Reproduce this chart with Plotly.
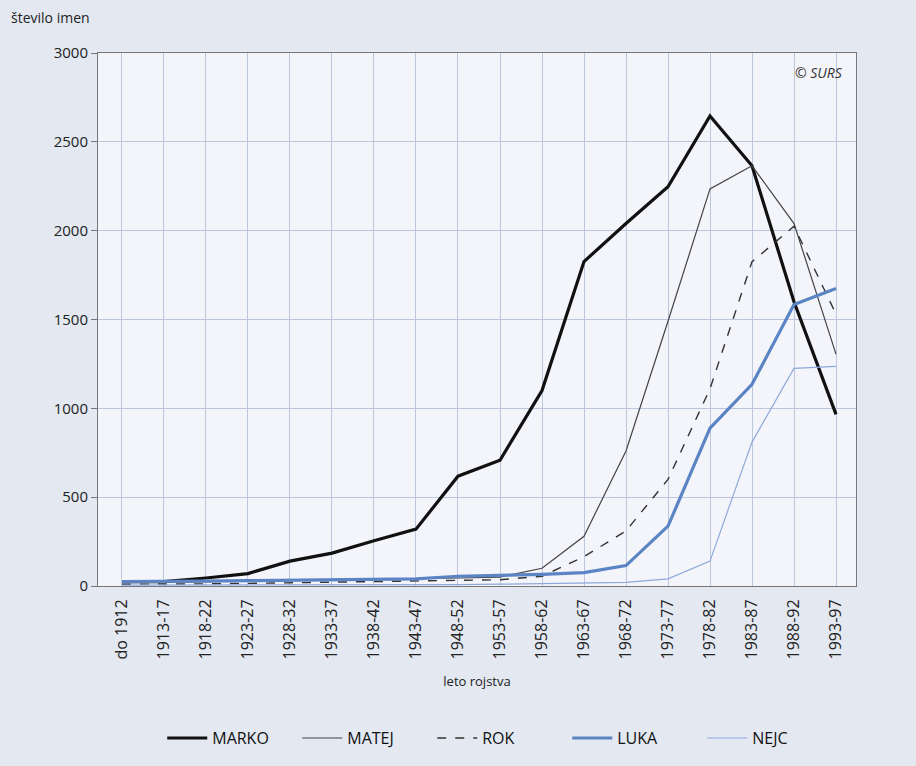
import plotly.graph_objects as go

categories = ["do 1912", "1913-17", "1918-22", "1923-27", "1928-32", "1933-37",
              "1938-42", "1943-47", "1948-52", "1953-57", "1958-62", "1963-67",
              "1968-72", "1973-77", "1978-82", "1983-87", "1988-92", "1993-97"]

marko = [25, 25, 45, 70, 140, 185, 255, 320, 618, 708, 1100, 1826, 2040, 2247, 2646, 2365, 1600, 966]
matej = [20, 20, 25, 28, 30, 35, 40, 40, 45, 50, 100, 280, 760, 1490, 2235, 2365, 2040, 1305]
rok = [10, 10, 12, 15, 18, 20, 22, 25, 30, 35, 55, 165, 310, 600, 1110, 1825, 2025, 1530]
luka = [25, 25, 28, 30, 32, 35, 38, 40, 55, 60, 65, 75, 115, 337, 888, 1135, 1584, 1674]
nejc = [5, 5, 5, 5, 5, 5, 5, 5, 8, 10, 12, 15, 20, 40, 140, 810, 1225, 1236]

y_ticks = [0, 500, 1000, 1500, 2000, 2500, 3000]

series = [
    ("MARKO", marko, dict(color="#111111", width=3.2)),
    ("MATEJ", matej, dict(color="#444444", width=1.2)),
    ("ROK", rok, dict(color="#333333", width=1.4, dash="dash")),
    ("LUKA", luka, dict(color="#5a84c4", width=3.2)),
    ("NEJC", nejc, dict(color="#8eaadb", width=1.2)),
]

xs = list(range(len(categories)))
fig = go.Figure()
for name, vals, line in series:
    fig.add_trace(go.Scatter(x=xs, y=vals, mode="lines", name=name, line=line))

fig.update_layout(
    width=916, height=766,
    paper_bgcolor="#e3e8f1",
    plot_bgcolor="#f4f5fa",
    margin=dict(l=98, r=60, t=53, b=179),
    font=dict(family="Open Sans, sans-serif", size=13, color="#222222"),
    showlegend=True,
    legend=dict(orientation="h", x=0.53, xanchor="center", y=-0.283, yanchor="middle",
                font=dict(family="Open Sans, sans-serif", size=16, color="#111111"),
                bgcolor="rgba(0,0,0,0)", entrywidth=80, itemwidth=40),
    xaxis=dict(
        range=[-0.571, 17.476],
        tickmode="array", tickvals=xs, ticktext=categories, tickangle=-90,
        showgrid=True, gridcolor="#bcc7de", gridwidth=1,
        showline=True, linecolor="#777777", linewidth=1, mirror=True,
        ticks="", zeroline=False, ticklabelstandoff=6,
        title=dict(text="leto rojstva", font=dict(size=13), standoff=18),
        tickfont=dict(size=16),
    ),
    yaxis=dict(
        range=[0, 3000],
        tickmode="array", tickvals=y_ticks,
        showgrid=True, gridcolor="#bcc7de", gridwidth=1,
        showline=True, linecolor="#777777", linewidth=1, mirror=True,
        ticks="outside", ticklen=6, tickcolor="#777777",
        zeroline=False, tickfont=dict(size=15),
    ),
    annotations=[
        dict(text="število imen", xref="paper", yref="paper", x=-0.117, y=1.045,
             xanchor="left", yanchor="bottom", showarrow=False,
             font=dict(size=14, color="#222222")),
        dict(text="<i>© SURS</i>", xref="paper", yref="paper", x=0.985, y=0.985,
             xanchor="right", yanchor="top", showarrow=False,
             font=dict(size=14, color="#333333")),
    ],
)

fig.write_html("out.html", config={"displayModeBar": False},
               post_script="document.body.style.margin='0';document.body.style.background='#e3e8f1';")
